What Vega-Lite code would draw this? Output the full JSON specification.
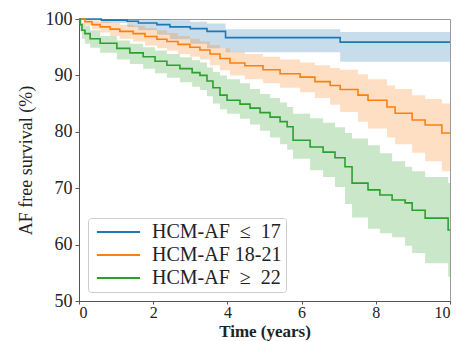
{
  "$schema": "https://vega.github.io/schema/vega-lite/v6.json",
  "width": 371,
  "height": 282,
  "autosize": {"type": "none"},
  "padding": {"left": 79, "top": 19, "right": 10, "bottom": 40},
  "background": "white",
  "config": {
    "view": {"stroke": "#999", "strokeWidth": 1},
    "axis": {
      "grid": false,
      "domainColor": "#555",
      "tickColor": "#555",
      "tickSize": 4,
      "labelFont": "Liberation Serif",
      "labelFontSize": 18,
      "labelColor": "#222",
      "titleFont": "Liberation Serif",
      "titleFontSize": 18,
      "titleColor": "#222"
    }
  },
  "resolve": {"legend": {"color": "independent"}},
  "data": {
    "values": [
      {"g": "HCM-AF ≤ 17", "t": 0, "s": 100, "lo": 100, "hi": 100},
      {"g": "HCM-AF ≤ 17", "t": 0.6, "s": 99.8, "lo": 99.3, "hi": 100},
      {"g": "HCM-AF ≤ 17", "t": 1.3, "s": 99.6, "lo": 98.6, "hi": 100},
      {"g": "HCM-AF ≤ 17", "t": 1.6, "s": 99.3, "lo": 98.0, "hi": 100},
      {"g": "HCM-AF ≤ 17", "t": 2.1, "s": 99.0, "lo": 97.2, "hi": 100},
      {"g": "HCM-AF ≤ 17", "t": 2.45, "s": 98.6, "lo": 96.4, "hi": 99.8},
      {"g": "HCM-AF ≤ 17", "t": 3.0, "s": 98.3, "lo": 95.6, "hi": 99.5},
      {"g": "HCM-AF ≤ 17", "t": 3.45, "s": 97.8, "lo": 94.8, "hi": 99.2},
      {"g": "HCM-AF ≤ 17", "t": 3.95, "s": 96.7, "lo": 94.1, "hi": 98.2},
      {"g": "HCM-AF ≤ 17", "t": 7.04, "s": 95.9, "lo": 92.4, "hi": 97.7},
      {"g": "HCM-AF ≤ 17", "t": 10, "s": 95.9, "lo": 92.4, "hi": 97.7},

      {"g": "HCM-AF 18-21", "t": 0, "s": 100, "lo": 100, "hi": 100},
      {"g": "HCM-AF 18-21", "t": 0.16, "s": 99.5, "lo": 98.9, "hi": 100},
      {"g": "HCM-AF 18-21", "t": 0.35, "s": 99.0, "lo": 98.2, "hi": 99.8},
      {"g": "HCM-AF 18-21", "t": 0.57, "s": 98.6, "lo": 97.6, "hi": 99.5},
      {"g": "HCM-AF 18-21", "t": 0.84, "s": 98.2, "lo": 97.0, "hi": 99.3},
      {"g": "HCM-AF 18-21", "t": 1.1, "s": 97.8, "lo": 96.5, "hi": 99.0},
      {"g": "HCM-AF 18-21", "t": 1.46, "s": 97.4, "lo": 96.0, "hi": 98.8},
      {"g": "HCM-AF 18-21", "t": 1.78, "s": 96.9, "lo": 95.3, "hi": 98.4},
      {"g": "HCM-AF 18-21", "t": 2.1, "s": 96.4, "lo": 94.8, "hi": 98.0},
      {"g": "HCM-AF 18-21", "t": 2.37, "s": 96.0, "lo": 94.4, "hi": 97.5},
      {"g": "HCM-AF 18-21", "t": 2.67, "s": 95.5, "lo": 93.8, "hi": 97.0},
      {"g": "HCM-AF 18-21", "t": 2.99, "s": 95.0, "lo": 93.3, "hi": 96.5},
      {"g": "HCM-AF 18-21", "t": 3.26, "s": 94.5, "lo": 92.8, "hi": 96.0},
      {"g": "HCM-AF 18-21", "t": 3.53, "s": 93.8, "lo": 91.8, "hi": 95.4},
      {"g": "HCM-AF 18-21", "t": 3.8, "s": 93.0, "lo": 90.9, "hi": 94.8},
      {"g": "HCM-AF 18-21", "t": 4.07, "s": 92.2, "lo": 90.0, "hi": 94.2},
      {"g": "HCM-AF 18-21", "t": 4.47, "s": 91.7, "lo": 89.3, "hi": 93.8},
      {"g": "HCM-AF 18-21", "t": 4.96, "s": 91.0, "lo": 88.6, "hi": 93.3},
      {"g": "HCM-AF 18-21", "t": 5.42, "s": 90.3, "lo": 87.8, "hi": 92.8},
      {"g": "HCM-AF 18-21", "t": 5.96, "s": 89.7, "lo": 87.0, "hi": 92.3},
      {"g": "HCM-AF 18-21", "t": 6.36, "s": 88.9, "lo": 86.0, "hi": 91.8},
      {"g": "HCM-AF 18-21", "t": 6.77, "s": 88.2, "lo": 84.8, "hi": 91.3},
      {"g": "HCM-AF 18-21", "t": 7.04, "s": 87.5, "lo": 83.5, "hi": 91.0},
      {"g": "HCM-AF 18-21", "t": 7.52, "s": 86.5, "lo": 81.8, "hi": 90.2},
      {"g": "HCM-AF 18-21", "t": 7.79, "s": 85.6, "lo": 80.6, "hi": 89.3},
      {"g": "HCM-AF 18-21", "t": 8.3, "s": 84.4, "lo": 79.0, "hi": 88.2},
      {"g": "HCM-AF 18-21", "t": 8.52, "s": 83.3, "lo": 77.8, "hi": 87.6},
      {"g": "HCM-AF 18-21", "t": 8.98, "s": 82.1, "lo": 76.3, "hi": 86.5},
      {"g": "HCM-AF 18-21", "t": 9.33, "s": 81.2, "lo": 74.8, "hi": 85.8},
      {"g": "HCM-AF 18-21", "t": 9.78, "s": 79.8, "lo": 73.0, "hi": 85.0},
      {"g": "HCM-AF 18-21", "t": 10, "s": 79.8, "lo": 73.0, "hi": 85.0},

      {"g": "HCM-AF ≥ 22", "t": 0, "s": 100, "lo": 100, "hi": 100},
      {"g": "HCM-AF ≥ 22", "t": 0.03, "s": 99.0, "lo": 97.8, "hi": 99.8},
      {"g": "HCM-AF ≥ 22", "t": 0.08, "s": 98.0, "lo": 96.5, "hi": 99.3},
      {"g": "HCM-AF ≥ 22", "t": 0.16, "s": 97.4, "lo": 95.6, "hi": 98.8},
      {"g": "HCM-AF ≥ 22", "t": 0.3, "s": 96.5, "lo": 94.9, "hi": 98.0},
      {"g": "HCM-AF ≥ 22", "t": 0.57, "s": 95.7, "lo": 94.0, "hi": 97.0},
      {"g": "HCM-AF ≥ 22", "t": 1.02, "s": 94.8, "lo": 92.8, "hi": 96.2},
      {"g": "HCM-AF ≥ 22", "t": 1.37, "s": 94.0, "lo": 92.0, "hi": 95.6},
      {"g": "HCM-AF ≥ 22", "t": 1.73, "s": 93.3, "lo": 91.2, "hi": 95.0},
      {"g": "HCM-AF ≥ 22", "t": 2.05, "s": 92.5, "lo": 90.4, "hi": 94.4},
      {"g": "HCM-AF ≥ 22", "t": 2.37, "s": 91.8, "lo": 89.6, "hi": 93.8},
      {"g": "HCM-AF ≥ 22", "t": 2.72, "s": 91.2, "lo": 88.8, "hi": 93.2},
      {"g": "HCM-AF ≥ 22", "t": 3.05, "s": 90.5, "lo": 88.0, "hi": 92.7},
      {"g": "HCM-AF ≥ 22", "t": 3.26, "s": 90.0, "lo": 87.4, "hi": 92.3},
      {"g": "HCM-AF ≥ 22", "t": 3.45, "s": 89.0, "lo": 86.3, "hi": 91.4},
      {"g": "HCM-AF ≥ 22", "t": 3.61, "s": 87.8, "lo": 85.0, "hi": 90.6},
      {"g": "HCM-AF ≥ 22", "t": 3.8, "s": 86.5, "lo": 84.0, "hi": 90.0},
      {"g": "HCM-AF ≥ 22", "t": 3.99, "s": 85.6, "lo": 83.2, "hi": 89.3},
      {"g": "HCM-AF ≥ 22", "t": 4.34, "s": 84.9, "lo": 82.3, "hi": 88.6},
      {"g": "HCM-AF ≥ 22", "t": 4.61, "s": 84.2, "lo": 81.3, "hi": 87.6},
      {"g": "HCM-AF ≥ 22", "t": 4.88, "s": 83.4, "lo": 80.2, "hi": 86.7},
      {"g": "HCM-AF ≥ 22", "t": 5.15, "s": 82.6, "lo": 79.0, "hi": 86.0},
      {"g": "HCM-AF ≥ 22", "t": 5.42, "s": 81.8, "lo": 77.8, "hi": 85.2},
      {"g": "HCM-AF ≥ 22", "t": 5.61, "s": 80.9, "lo": 76.8, "hi": 84.4},
      {"g": "HCM-AF ≥ 22", "t": 5.77, "s": 78.5, "lo": 75.2, "hi": 83.2},
      {"g": "HCM-AF ≥ 22", "t": 6.23, "s": 77.3, "lo": 73.2, "hi": 82.4},
      {"g": "HCM-AF ≥ 22", "t": 6.58, "s": 76.4, "lo": 72.0, "hi": 81.6},
      {"g": "HCM-AF ≥ 22", "t": 6.9, "s": 75.4, "lo": 70.2, "hi": 80.8},
      {"g": "HCM-AF ≥ 22", "t": 7.17, "s": 73.8, "lo": 67.2, "hi": 79.8},
      {"g": "HCM-AF ≥ 22", "t": 7.36, "s": 70.9, "lo": 64.8, "hi": 78.8},
      {"g": "HCM-AF ≥ 22", "t": 7.79, "s": 69.7, "lo": 62.8, "hi": 77.6},
      {"g": "HCM-AF ≥ 22", "t": 8.11, "s": 68.8, "lo": 62.0, "hi": 76.2},
      {"g": "HCM-AF ≥ 22", "t": 8.44, "s": 67.9, "lo": 61.3, "hi": 74.8},
      {"g": "HCM-AF ≥ 22", "t": 8.79, "s": 67.4, "lo": 59.8, "hi": 73.8},
      {"g": "HCM-AF ≥ 22", "t": 8.98, "s": 66.1, "lo": 58.5, "hi": 73.0},
      {"g": "HCM-AF ≥ 22", "t": 9.33, "s": 64.7, "lo": 56.7, "hi": 72.0},
      {"g": "HCM-AF ≥ 22", "t": 9.95, "s": 62.6, "lo": 54.3, "hi": 70.9},
      {"g": "HCM-AF ≥ 22", "t": 10, "s": 62.6, "lo": 54.3, "hi": 70.9}
    ]
  },
  "encoding": {
    "x": {
      "field": "t",
      "type": "quantitative",
      "scale": {"domain": [0, 10], "nice": false},
      "axis": {
        "title": "Time (years)",
        "values": [0, 2, 4, 6, 8, 10],
        "tickSize": 3,
        "labelFontSize": 16,
        "labelPadding": 0,
        "titleFontSize": 17,
        "titlePadding": 3,
        "titleFontWeight": "bold"
      }
    }
  },
  "layer": [
    {
      "mark": {"type": "area", "interpolate": "step-after", "opacity": 0.25},
      "encoding": {
        "y": {
          "field": "lo",
          "type": "quantitative",
          "scale": {"domain": [50, 100], "nice": false},
          "title": "AF free survival (%)"
        },
        "y2": {"field": "hi"},
        "color": {
          "field": "g",
          "type": "nominal",
          "scale": {"domain": ["HCM-AF ≤ 17", "HCM-AF 18-21", "HCM-AF ≥ 22"], "range": ["#1f77b4", "#ff7f0e", "#2ca02c"]},
          "legend": null
        }
      }
    },
    {
      "mark": {"type": "line", "interpolate": "step-after", "strokeWidth": 1.6},
      "encoding": {
        "y": {
          "field": "s",
          "type": "quantitative",
          "scale": {"domain": [50, 100], "nice": false},
          "axis": {
            "title": "AF free survival (%)",
            "values": [50, 60, 70, 80, 90, 100],
            "labelPadding": 3,
            "titlePadding": 10,
            "titleFontWeight": "normal"
          }
        },
        "color": {
          "field": "g",
          "type": "nominal",
          "scale": {"domain": ["HCM-AF ≤ 17", "HCM-AF 18-21", "HCM-AF ≥ 22"], "range": ["#1f77b4", "#ff7f0e", "#2ca02c"]},
          "legend": {
            "title": null,
            "orient": "none",
            "legendX": 9,
            "legendY": 199,
            "symbolType": "M-2.7,0H2.7",
            "symbolSize": 256,
            "symbolStrokeWidth": 2,
            "symbolOffset": 16.5,
            "labelOffset": 23.5,
            "labelExpr": "replace(replace(datum.label, ' ≤ ', '\u2002≤\u2002'), ' ≥ ', '\u2002≥\u2002') + '\u2002'",
            "labelFont": "Liberation Serif",
            "labelFontSize": 20,
            "labelColor": "#222",
            "labelLimit": 300,
            "fillColor": "white",
            "strokeColor": "#ccc",
            "cornerRadius": 3,
            "padding": 4,
            "rowPadding": 3
          }
        }
      }
    }
  ]
}
